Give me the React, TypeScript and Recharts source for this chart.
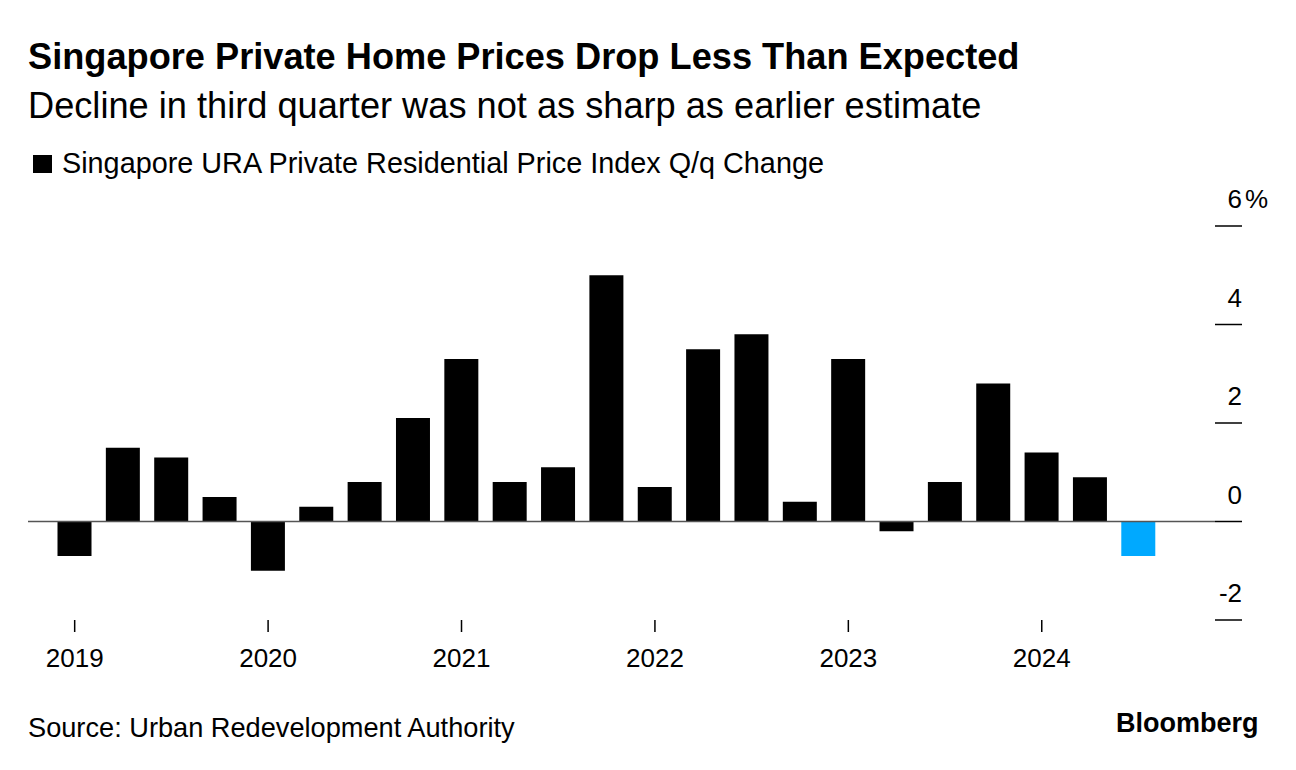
import React from 'react';
import { BarChart, Bar, XAxis, YAxis, ReferenceLine, Cell } from 'recharts';

const years = ['2019', '2020', '2021', '2022', '2023', '2024'];
const quarters = ['Q1', 'Q2', 'Q3', 'Q4'];

// Q/q change, 2019 Q1 .. 2024 Q3
const qoqChange = [
  -0.7, 1.5, 1.3, 0.5,
  -1.0, 0.3, 0.8, 2.1,
  3.3, 0.8, 1.1, 5.0,
  0.7, 3.5, 3.8, 0.4,
  3.3, -0.2, 0.8, 2.8,
  1.4, 0.9, -0.7,
];

const yTicks = [-2, 0, 2, 4, 6];

const FONT = '"Liberation Sans", Arial, Helvetica, sans-serif';
const BLUE = '#00A9FF';

const data = years.flatMap(y => quarters.map(q => `${y} ${q}`)).map((label, i) => ({
  label,
  value: i < qoqChange.length ? qoqChange[i] : null,
}));

const YTick = (props: any) => {
  const { x, y, payload } = props;
  const top = payload.value === yTicks[yTicks.length - 1];
  return (
    <g>
      <line x1={x - 27} x2={x} y1={y} y2={y} stroke="#000" strokeWidth={1.5} />
      <text x={x} y={y - 18} textAnchor="end" fontSize={26} fill="#000" fontFamily={FONT}>
        {payload.value}
      </text>
      {top && (
        <text x={x + 3} y={y - 18} textAnchor="start" fontSize={26} fill="#000" fontFamily={FONT}>
          %
        </text>
      )}
    </g>
  );
};

const App: React.FC = () => {
  return (
    <div style={{ position: 'absolute', left: 0, top: 0, width: 1296, height: 770, background: '#fff', fontFamily: FONT, color: '#000' }}>
      <div style={{ position: 'absolute', left: 0, top: 0 }}>
        <BarChart width={1296} height={770} data={data} margin={{ top: 226, right: 0, bottom: 100, left: 28 }}>
          <XAxis
            dataKey="label"
            interval={3}
            tickFormatter={(v: string) => v.slice(0, 4)}
            axisLine={false}
            tickLine={{ stroke: '#000', strokeWidth: 1.5 }}
            tickSize={12}
            tickMargin={17}
            tick={{ fill: '#000', fontSize: 26, fontFamily: FONT }}
            padding={{ left: 22.5, right: 4 }}
            height={50}
          />
          <YAxis
            orientation="right"
            domain={[-2, 6]}
            ticks={yTicks}
            axisLine={false}
            tickLine={false}
            tickSize={27}
            tickMargin={0}
            tick={<YTick />}
            width={81}
          />
          <Bar dataKey="value" barSize={34} isAnimationActive={false}>
            {data.map((d, i) => (
              <Cell key={d.label} fill={i === qoqChange.length - 1 ? BLUE : '#000'} />
            ))}
          </Bar>
          <ReferenceLine y={0} stroke="#555" strokeWidth={1.5} />
        </BarChart>
      </div>

      <div style={{ position: 'absolute', left: 28, top: 38.5, fontSize: 36.2, fontWeight: 700, whiteSpace: 'nowrap', lineHeight: '36px' }}>
        Singapore Private Home Prices Drop Less Than Expected
      </div>
      <div style={{ position: 'absolute', left: 28, top: 87.5, fontSize: 36.2, whiteSpace: 'nowrap', lineHeight: '36px' }}>
        Decline in third quarter was not as sharp as earlier estimate
      </div>
      <div style={{ position: 'absolute', left: 33, top: 155, width: 19, height: 18, background: '#000' }} />
      <div style={{ position: 'absolute', left: 62, top: 149, fontSize: 28.8, whiteSpace: 'nowrap', lineHeight: '28px' }}>
        Singapore URA Private Residential Price Index Q/q Change
      </div>
      <div style={{ position: 'absolute', left: 28, top: 714, fontSize: 27.2, whiteSpace: 'nowrap', lineHeight: '27px' }}>
        Source: Urban Redevelopment Authority
      </div>
      <div style={{ position: 'absolute', left: 1116, top: 710, fontSize: 27, fontWeight: 700, whiteSpace: 'nowrap', lineHeight: '27px' }}>
        Bloomberg
      </div>
    </div>
  );
};

export default App;
